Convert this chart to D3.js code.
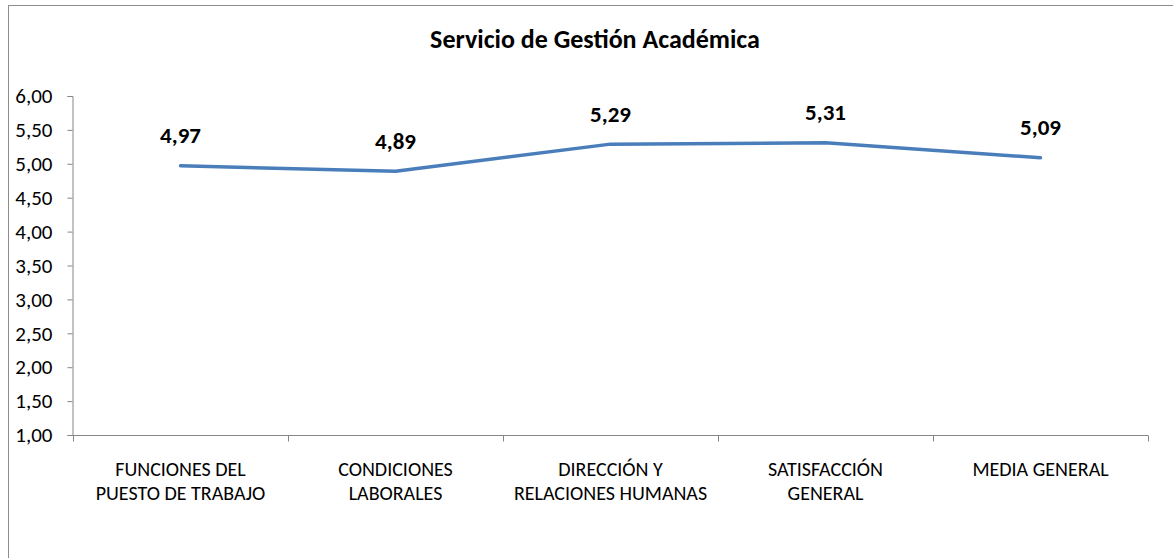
<!DOCTYPE html>
<html>
<head>
<meta charset="utf-8">
<script src="https://cdn.jsdelivr.net/npm/d3@7"></script>
<style>
  body { margin: 0; background: #fff; }
  svg { display: block; font-family: Carlito, Lato, "Open Sans", sans-serif; }
</style>
</head>
<body>
<svg width="1173" height="558"></svg>
<script>
// data
var categories = [
    ["FUNCIONES DEL", "PUESTO DE TRABAJO"],
    ["CONDICIONES", "LABORALES"],
    ["DIRECCIÓN Y", "RELACIONES HUMANAS"],
    ["SATISFACCIÓN", "GENERAL"],
    ["MEDIA GENERAL"]
];
var values = [4.97, 4.89, 5.29, 5.31, 5.09];
var yTicks = [1, 1.5, 2, 2.5, 3, 3.5, 4, 4.5, 5, 5.5, 6];
var title = "Servicio de Gestión Académica";

var svg = d3.select('svg');
var fmt = d => d.toFixed(2).replace('.', ',');

// outer frame
svg.append('rect')
    .attr('x', 8.5).attr('y', 5.5)
    .attr('width', 1200).attr('height', 600)
    .attr('fill', 'none')
    .attr('stroke', '#8c8c8c')
    .attr('stroke-width', 1);

svg.append('text')
    .attr('x', 595).attr('y', 48)
    .attr('text-anchor', 'middle')
    .attr('font-weight', 'bold')
    .attr('font-size', 26)
    .text(title);

var xScale = d3.scaleBand()
    .domain(d3.range(categories.length))
    .range([73, 1148]);

var yScale = d3.scaleLinear()
    .domain([1, 6])
    .range([435, 96]);

// y axis
var yAxis = svg.append('g')
    .attr('transform', 'translate(72.5,0)')
    .call(d3.axisLeft(yScale).tickValues(yTicks).tickFormat(fmt).tickSizeOuter(0).tickSize(5).tickPadding(15));
yAxis.select('.domain').attr('stroke', '#868686');
yAxis.selectAll('.tick line').attr('stroke', '#868686');
yAxis.selectAll('.tick text').attr('font-size', 21).attr('fill', '#000');
yAxis.attr('font-family', null);

// x axis
var xAxis = svg.append('g')
    .attr('transform', 'translate(0,435.5)');
xAxis.append('line')
    .attr('x1', 72).attr('x2', 1148)
    .attr('stroke', '#868686');
xAxis.selectAll('line.tick')
    .data(d3.range(categories.length + 1))
    .enter().append('line')
    .attr('class', 'tick')
    .attr('x1', d => Math.round(d < categories.length ? xScale(d) : xScale.range()[1]) + 0.5)
    .attr('x2', d => Math.round(d < categories.length ? xScale(d) : xScale.range()[1]) + 0.5)
    .attr('y1', 0).attr('y2', 6)
    .attr('stroke', '#868686');

var labels = xAxis.selectAll('text.cat')
    .data(categories)
    .enter().append('text')
    .attr('class', 'cat')
    .attr('text-anchor', 'middle')
    .attr('font-size', 20)
    .attr('fill', '#000')
    .attr('transform', (d, i) => 'translate(' + (xScale(i) + xScale.bandwidth() / 2) + ',40)');
labels.selectAll('tspan')
    .data(d => d)
    .enter().append('tspan')
    .attr('x', 0)
    .attr('dy', (d, i) => i === 0 ? 0 : 24)
    .text(d => d);

// line
var line = d3.line()
    .x((d, i) => xScale(i) + xScale.bandwidth() / 2)
    .y(d => yScale(d));

svg.append('path')
    .datum(values)
    .attr('d', line)
    .attr('fill', 'none')
    .attr('stroke', '#4a7ebb')
    .attr('stroke-width', 3.5)
    .attr('stroke-linejoin', 'round')
    .attr('stroke-linecap', 'round');

svg.selectAll('text.val')
    .data(values)
    .enter().append('text')
    .attr('class', 'val')
    .attr('x', (d, i) => xScale(i) + xScale.bandwidth() / 2)
    .attr('y', d => yScale(d) - 22.5)
    .attr('text-anchor', 'middle')
    .attr('font-weight', 'bold')
    .attr('font-size', 23)
    .text(fmt);
</script>
</body>
</html>
